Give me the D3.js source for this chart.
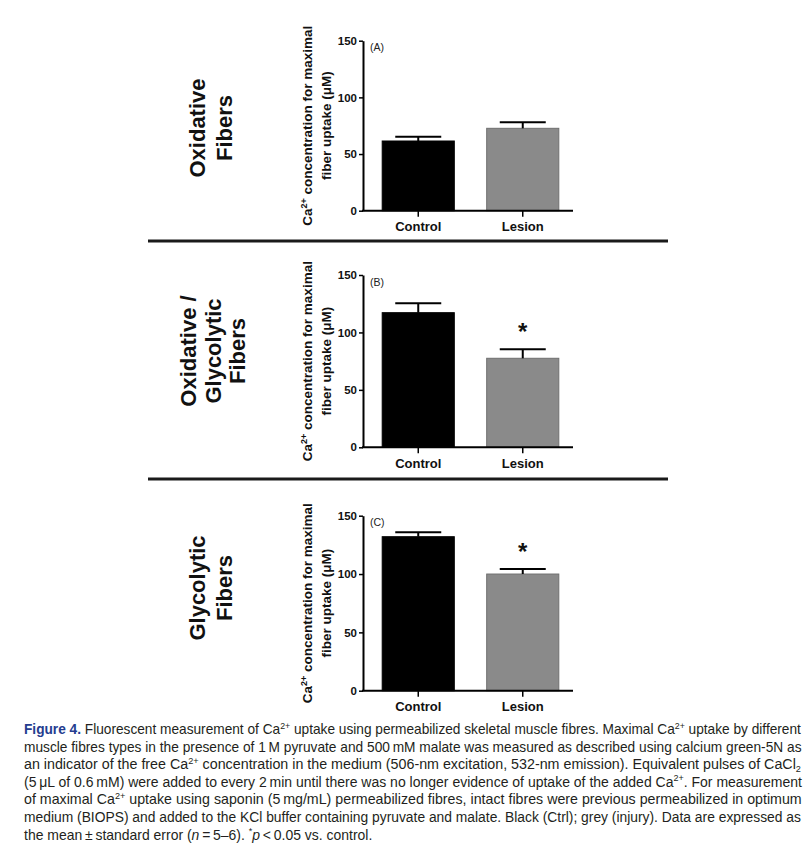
<!DOCTYPE html>
<html>
<head>
<meta charset="utf-8">
<script src="https://cdn.jsdelivr.net/npm/d3@7/dist/d3.min.js"></script>
<style>
  html, body { margin: 0; padding: 0; background: #fff; }
  svg { display: block; }
</style>
</head>
<body>
<svg id="chart" width="812" height="845"></svg>
<script>
// ---------------- DATA ----------------
const categories = ["Control", "Lesion"];
const panelLabels = ["(A)", "(B)", "(C)"];
const rowTitles = [["Oxidative", "Fibers"], ["Oxidative /", "Glycolytic", "Fibers"], ["Glycolytic", "Fibers"]];
const meanA = [61.5, 72.7];
const semA = [3.8, 5.3];
const meanB = [117.2, 77.5];
const semB = [8.2, 7.8];
const meanC = [132.0, 100.0];
const semC = [3.8, 4.3];
const sigA = [false, false];
const sigB = [false, true];
const sigC = [false, true];
const yTicks = [0, 50, 100, 150];
const yMax = 150;
const yTitle1 = "concentration for maximal";
const yTitle2 = "fiber uptake (\u03BCM)";

// caption lines: [text, style] ; styles: n normal, b blue bold, sup, sub, i italic
const captionLines = [
  [["Figure 4.", "b"], [" Fluorescent measurement of Ca", "n"], ["2+", "sup"], [" uptake using permeabilized skeletal muscle fibres. Maximal Ca", "n"], ["2+", "sup"], [" uptake by different", "n"]],
  [["muscle fibres types in the presence of 1\u2009M pyruvate and 500\u2009mM malate was measured as described using calcium green-5N as", "n"]],
  [["an indicator of the free Ca", "n"], ["2+", "sup"], [" concentration in the medium (506-nm excitation, 532-nm emission). Equivalent pulses of CaCl", "n"], ["2", "sub"]],
  [["(5\u2009\u03BCL of 0.6\u2009mM) were added to every 2\u2009min until there was no longer evidence of uptake of the added Ca", "n"], ["2+", "sup"], [". For measurement", "n"]],
  [["of maximal Ca", "n"], ["2+", "sup"], [" uptake using saponin (5\u2009mg/mL) permeabilized fibres, intact fibres were previous permeabilized in optimum", "n"]],
  [["medium (BIOPS) and added to the KCl buffer containing pyruvate and malate. Black (Ctrl); grey (injury). Data are expressed as", "n"]],
  [["the mean\u2009\u00B1\u2009standard error (", "n"], ["n", "i"], ["\u2009=\u20095\u20136). ", "n"], ["*", "sup"], ["p", "i"], ["\u2009<\u20090.05 vs. control.", "n"]]
];

// ---------------- LAYOUT ----------------
const svg = d3.select("#chart");
const FONT = "'Liberation Sans', Arial, Helvetica, sans-serif";
const axisX = 363;
const axisEnd = 573;
const colors = ["#000000", "#8a8a8a"];

const panels = [
  { mean: meanA, sem: semA, sig: sigA, y0: 210.7, y1: 40.7, rowCenter: 128, rowX: [204.5, 231.5] },
  { mean: meanB, sem: semB, sig: sigB, y0: 447.3, y1: 275, rowCenter: 351, rowX: [196, 220.5, 245] },
  { mean: meanC, sem: semC, sig: sigC, y0: 690.7, y1: 515.7, rowCenter: 588, rowX: [204.5, 231.5] }
];

const x = d3.scaleBand().domain(categories).range([366, 575]).paddingInner(0.31).paddingOuter(0.155);

panels.forEach((p, pi) => {
  const g = svg.append("g");
  const y = d3.scaleLinear().domain([0, yMax]).range([p.y0, p.y1]);

  // row title
  rowTitles[pi].forEach((t, li) => {
    g.append("text")
      .attr("transform", `translate(${p.rowX[li]},${p.rowCenter}) rotate(-90)`)
      .attr("text-anchor", "middle")
      .attr("font-family", FONT).attr("font-weight", "bold").attr("font-size", 22)
      .attr("fill", "#111")
      .text(t);
  });

  // y axis title
  const yc = (p.y0 + p.y1) / 2;
  const t1 = g.append("text")
    .attr("transform", `translate(312,${yc}) rotate(-90)`)
    .attr("text-anchor", "middle")
    .attr("font-family", FONT).attr("font-weight", "bold").attr("font-size", 13.5)
    .attr("fill", "#111");
  t1.append("tspan").text("Ca");
  t1.append("tspan").attr("dy", -5).attr("font-size", 9).text("2+");
  t1.append("tspan").attr("dy", 5).text(" " + yTitle1);
  g.append("text")
    .attr("transform", `translate(330.5,${yc}) rotate(-90)`)
    .attr("text-anchor", "middle")
    .attr("font-family", FONT).attr("font-weight", "bold").attr("font-size", 13.5)
    .attr("fill", "#111")
    .text(yTitle2);

  // bars
  g.selectAll("rect.bar").data(categories).enter().append("rect")
    .attr("x", d => x(d))
    .attr("width", x.bandwidth())
    .attr("y", (d, i) => y(p.mean[i]))
    .attr("height", (d, i) => y(0) - y(p.mean[i]))
    .attr("fill", (d, i) => colors[i])
    .attr("stroke", (d, i) => i === 0 ? "#000" : "#6f6f6f")
    .attr("stroke-width", 1);

  // error bars
  const capW = 46;
  categories.forEach((c, i) => {
    const cx = x(c) + x.bandwidth() / 2;
    g.append("line")
      .attr("x1", cx).attr("x2", cx)
      .attr("y1", y(p.mean[i])).attr("y2", y(p.mean[i] + p.sem[i]))
      .attr("stroke", "#000").attr("stroke-width", 2);
    g.append("line")
      .attr("x1", cx - capW / 2).attr("x2", cx + capW / 2)
      .attr("y1", y(p.mean[i] + p.sem[i])).attr("y2", y(p.mean[i] + p.sem[i]))
      .attr("stroke", "#000").attr("stroke-width", 2);
    if (p.sig[i]) {
      g.append("text")
        .attr("x", cx).attr("y", y(p.mean[i] + p.sem[i]) - 9)
        .attr("text-anchor", "middle")
        .attr("font-family", FONT).attr("font-weight", "bold").attr("font-size", 24)
        .attr("fill", "#111")
        .text("*");
    }
  });

  // y axis
  const ya = g.append("g").attr("transform", `translate(${axisX},0)`)
    .call(d3.axisLeft(y).tickValues(yTicks).tickSize(4).tickSizeOuter(0).tickPadding(2));
  ya.select(".domain").attr("stroke", "#000").attr("stroke-width", 2);
  ya.selectAll(".tick line").attr("stroke", "#000").attr("stroke-width", 1.5);
  ya.selectAll(".tick text").attr("font-family", FONT).attr("font-weight", "bold")
    .attr("font-size", 11.5).attr("fill", "#111");

  // x axis
  const xa = g.append("g").attr("transform", `translate(0,${p.y0})`)
    .call(d3.axisBottom(x).tickSize(6).tickSizeOuter(0).tickPadding(5));
  xa.select(".domain").remove();
  xa.selectAll(".tick line").attr("stroke", "#000").attr("stroke-width", 1.5);
  xa.selectAll(".tick text").attr("font-family", FONT).attr("font-weight", "bold")
    .attr("font-size", 13).attr("fill", "#111");
  g.append("line")
    .attr("x1", axisX - 1).attr("x2", axisEnd)
    .attr("y1", p.y0).attr("y2", p.y0)
    .attr("stroke", "#000").attr("stroke-width", 2);

  // panel label
  g.append("text")
    .attr("x", axisX + 7).attr("y", p.y1 + 10.5)
    .attr("font-family", FONT).attr("font-size", 10.5).attr("fill", "#222")
    .text(panelLabels[pi]);
});

// separators
[241, 479].forEach(yy => {
  svg.append("line").attr("x1", 148).attr("x2", 668).attr("y1", yy).attr("y2", yy)
    .attr("stroke", "#1a1a1a").attr("stroke-width", 3);
});

// ---------------- CAPTION ----------------
// each line is drawn at natural width, then horizontally scaled (condensed type) to justify
const capX = 24, capRight = 802, capY0 = 734, capDy = 17.6, capSize = 14;
const capTexts = [];
captionLines.forEach((parts, li) => {
  const g = svg.append("g");
  const t = g.append("text")
    .attr("x", 0).attr("y", 0)
    .attr("font-family", FONT).attr("font-size", capSize).attr("fill", "#231f20");
  let shift = 0;
  parts.forEach(([s, st]) => {
    const ts = t.append("tspan").text(s);
    let target = 0;
    if (st === "sup") { target = -5.5; ts.attr("font-size", 9); }
    else if (st === "sub") { target = 3; ts.attr("font-size", 9); }
    if (target !== shift) { ts.attr("dy", target - shift); shift = target; }
    if (st === "b") ts.attr("font-weight", "bold").attr("fill", "#243c8f");
    if (st === "i") ts.attr("font-style", "italic");
  });
  capTexts.push({ g, t, y: capY0 + li * capDy });
});
const ratios = [];
capTexts.forEach((c, i) => {
  if (i < capTexts.length - 1) {
    const w = c.t.node().getComputedTextLength();
    const r = (capRight - capX) / w;
    ratios.push(r);
    c.g.attr("transform", `translate(${capX},${c.y}) scale(${r},1)`);
  }
});
const avgRatio = d3.mean(ratios);
const lastC = capTexts[capTexts.length - 1];
lastC.g.attr("transform", `translate(${capX},${lastC.y}) scale(${avgRatio},1)`);
</script>
</body>
</html>
